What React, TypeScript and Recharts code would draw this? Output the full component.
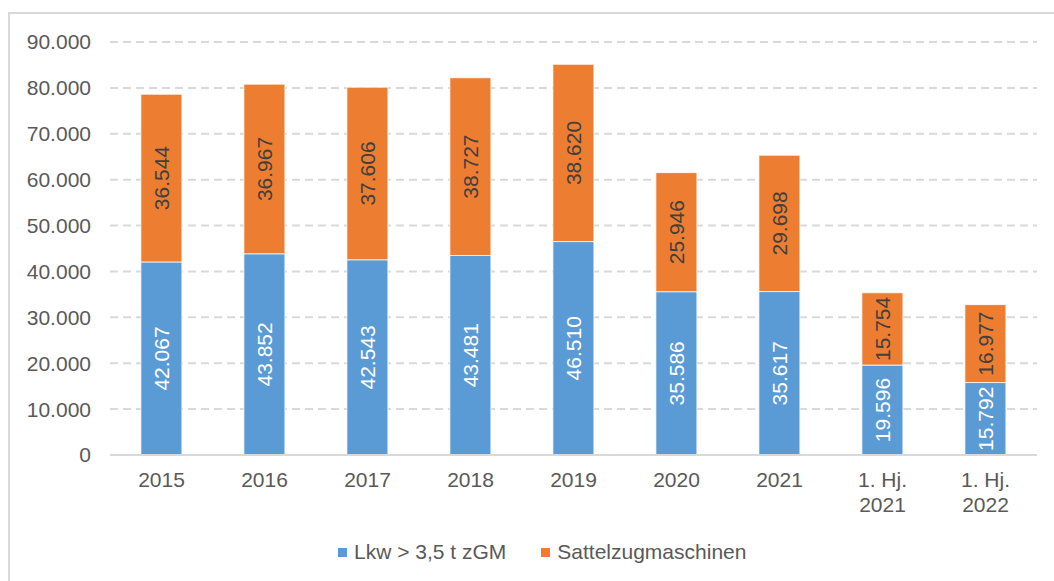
import { BarChart, Bar, XAxis, YAxis, CartesianGrid, Legend, LabelList } from "recharts";

const categories = ["2015", "2016", "2017", "2018", "2019", "2020", "2021", "1. Hj.\n2021", "1. Hj.\n2022"];
const lkwValues = [42067, 43852, 42543, 43481, 46510, 35586, 35617, 19596, 15792];
const sattelValues = [36544, 36967, 37606, 38727, 38620, 25946, 29698, 15754, 16977];
const yTicks = [0, 10000, 20000, 30000, 40000, 50000, 60000, 70000, 80000, 90000];

const data = categories.map((name, i) => ({
  name,
  lkw: lkwValues[i],
  sattel: sattelValues[i],
}));

const FONT = "'Liberation Sans', Arial, sans-serif";
const TEXT = "#595959";
const BLUE = "#5B9BD5";
const ORANGE = "#ED7D31";

// 42067 -> "42.067"
const fmt = (v: number) => String(v).replace(/\B(?=(\d{3})+(?!\d))/g, ".");

const XTick = (props: any) => {
  const { x, y, payload } = props;
  const lines = String(payload.value).split("\n");
  return (
    <text x={x} y={y} textAnchor="middle" fill={TEXT} fontSize={21} fontFamily={FONT}>
      {lines.map((line, i) => (
        <tspan key={i} x={x} y={y + 32 + i * 24.5}>
          {line}
        </tspan>
      ))}
    </text>
  );
};

const makeLabel = (color: string) => (props: any) => {
  const { x, y, width, height, value } = props;
  const cx = x + width / 2;
  const cy = y + height / 2;
  return (
    <text
      x={cx}
      y={cy}
      transform={`rotate(-90, ${cx}, ${cy})`}
      textAnchor="middle"
      dominantBaseline="central"
      fill={color}
      fontSize={21}
      fontFamily={FONT}
    >
      {fmt(value)}
    </text>
  );
};

const LegendContent = (props: any) => {
  const { payload } = props;
  return (
    <div style={{ display: "flex", alignItems: "center", fontFamily: FONT, fontSize: 21, color: TEXT }}>
      {payload.map((entry: any, i: number) => (
        <div key={i} style={{ display: "flex", alignItems: "center", marginRight: 35 }}>
          <span style={{ width: 9, height: 9, background: entry.color, display: "inline-block", marginRight: 7 }} />
          <span>{entry.value}</span>
        </div>
      ))}
    </div>
  );
};

export default function App() {
  return (
    <div style={{ position: "absolute", left: 0, top: 0, width: 1054, height: 581, overflow: "hidden", background: "#fff" }}>
      <div
        style={{
          position: "absolute",
          left: 8,
          top: 12,
          width: 1200,
          height: 800,
          border: "2px solid #D9D9D9",
        }}
      />
      <div style={{ position: "absolute", left: 0, top: 0 }}>
        <BarChart
          width={1054}
          height={581}
          data={data}
          margin={{ top: 42, right: 17, left: 0, bottom: 0 }}
          barCategoryGap="30%"
        >
          <CartesianGrid vertical={false} stroke="#D9D9D9" strokeWidth={2} strokeDasharray="8 5" />
          <XAxis
            dataKey="name"
            interval={0}
            tickLine={false}
            axisLine={{ stroke: "#D9D9D9", strokeWidth: 2 }}
            tickSize={0}
            tickMargin={0}
            tick={<XTick />}
            height={126}
          />
          <YAxis
            width={110}
            domain={[0, 90000]}
            ticks={yTicks}
            interval={0}
            axisLine={false}
            tickLine={false}
            tickSize={0}
            tickMargin={19}
            tickFormatter={fmt}
            tick={{ fill: TEXT, fontSize: 21, fontFamily: FONT }}
          />
          <Legend
            layout="horizontal"
            align="center"
            verticalAlign="middle"
            content={<LegendContent />}
            wrapperStyle={{ position: "absolute", left: 338, top: 540, width: 700, height: "auto" }}
          />
          <Bar dataKey="lkw" name="Lkw > 3,5 t zGM" stackId="a" fill={BLUE} stroke="#fff" strokeWidth={0.75} isAnimationActive={false}>
            <LabelList dataKey="lkw" content={makeLabel("#FFFFFF")} />
          </Bar>
          <Bar dataKey="sattel" name="Sattelzugmaschinen" stackId="a" fill={ORANGE} stroke="#fff" strokeWidth={0.75} isAnimationActive={false}>
            <LabelList dataKey="sattel" content={makeLabel("#404040")} />
          </Bar>
        </BarChart>
      </div>
    </div>
  );
}
